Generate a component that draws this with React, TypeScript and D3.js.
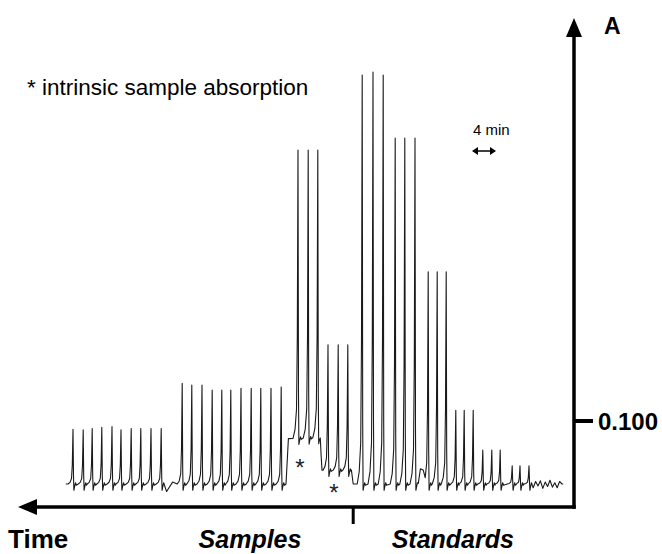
import React from "react";
import * as d3 from "d3";

// injection peaks, minutes before end of run (time runs right -> left)
const sampleTimes = [
  83.5, 81.8, 80.3, 78.7, 77.0, 75.5, 73.8, 72.2, 70.5, 68.8,
  65.3, 63.7, 62.0, 60.3, 58.7, 57.2, 55.5, 53.8, 52.2, 50.5, 48.8,
  46.0, 44.3, 42.7,
  41.0, 39.3, 37.7,
];
const sampleHeights = [
  0.087, 0.086, 0.088, 0.09, 0.091, 0.086, 0.088, 0.088, 0.088, 0.088,
  0.16, 0.157, 0.157, 0.149, 0.149, 0.149, 0.152, 0.152, 0.152, 0.152, 0.154,
  0.53, 0.53, 0.53,
  0.221, 0.221, 0.221,
];
const standardTimes = [
  35.3, 33.5, 31.8,
  29.8, 28.2, 26.5,
  24.3, 22.8, 21.3,
  19.7, 18.3, 16.8,
  15.2, 13.7, 12.3,
  10.3, 9.0, 7.5,
];
const standardHeights = [
  0.649, 0.654, 0.649,
  0.549, 0.549, 0.549,
  0.337, 0.337, 0.337,
  0.117, 0.117, 0.117,
  0.054, 0.054, 0.054,
  0.029, 0.029, 0.029,
];

// baseline (intrinsic sample absorption shifts)
const baseTimes = [1.8, 24.8, 25.1, 25.6, 26.0, 36.8, 37.1, 42.0, 42.3, 47.6, 48.0, 84.7];
const baseLevels = [0, 0, 0.022, 0.024, 0, 0, 0.022, 0.022, 0.074, 0.072, 0, 0];

// small detector noise
const noiseTimes = [67.9, 66.9, 6.8, 6.4, 6.0, 5.6, 5.2, 4.8, 4.4, 4.0, 3.6, 3.2, 2.8, 2.4, 2.0];
const noiseLevels = [-0.012, 0.003, -0.006, 0.004, -0.003, 0.005, -0.007, 0.003, -0.004, 0.006, -0.005, 0.002, -0.006, 0.004, 0];

const asteriskTimes = [45.7, 40.0];
const asteriskLevels = [0.033, -0.006];

const categories = ["Samples", "Standards"];
const categoryCenters = [54.0, 20.2];
const dividerTime = 36.8;
const yTicks = [0.1];
const scaleBar = [17, 13];

// peak shape template
const shapeDt = [0.83, 0.5, 0.25, 0.117, 0, -0.083, -0.15, -0.267, -0.417, -0.55];
const shapeFrac = [0, 0.03, 0.1, 0.35, 1, 0.15, 0, 0, 0, 0];
const shapeOff = [0, 0, 0, 0, 0, 0, -0.01, -0.004, 0.002, -0.002];

const font = "'Liberation Sans', Arial, sans-serif";

const Chromatogram = () => {
  const width = 662;
  const height = 554;
  const axisX = 574;
  const axisY = 507;

  const x = d3.scaleLinear().domain([0, 90]).range([574, 34]);
  const y = d3.scaleLinear().domain([0, 0.1]).range([484, 421]);
  const base = d3.scaleLinear().domain(baseTimes).range(baseLevels).clamp(true);

  const peaks = sampleTimes
    .map((t, i) => ({ t, h: sampleHeights[i] }))
    .concat(standardTimes.map((t, i) => ({ t, h: standardHeights[i] })));

  const inPeak = (t: number) =>
    peaks.some((p) => t >= p.t + shapeDt[shapeDt.length - 1] && t <= p.t + shapeDt[0]);

  const pts: [number, number][] = [];
  peaks.forEach((p) => {
    const b0 = base(p.t);
    shapeDt.forEach((dt, i) => {
      const t = p.t + dt;
      pts.push([t, base(t) + shapeFrac[i] * (p.h - b0) + shapeOff[i]]);
    });
  });
  baseTimes.forEach((t, i) => {
    if (!inPeak(t)) pts.push([t, baseLevels[i]]);
  });
  noiseTimes.forEach((t, i) => {
    if (!inPeak(t)) pts.push([t, base(t) + noiseLevels[i]]);
  });
  pts.sort((a, b) => b[0] - a[0]);

  const line = d3
    .line<[number, number]>()
    .x((d) => x(d[0]))
    .y((d) => y(d[1]));

  const barL = x(scaleBar[0]);
  const barR = x(scaleBar[1]);
  const barY = 151;

  return (
    <svg width={width} height={height} style={{ position: "absolute", left: 0, top: 0 }}>
      <rect width={width} height={height} fill="white" />
      <path d={line(pts) || ""} fill="none" stroke="#1a1a1a" strokeWidth={1.1} strokeLinejoin="round" />

      {asteriskTimes.map((t, i) => (
        <text key={i} x={x(t)} y={y(asteriskLevels[i]) + 13} textAnchor="middle" fontFamily={font} fontSize={24} fill="#222">
          *
        </text>
      ))}

      {/* axes */}
      <g stroke="black" strokeWidth={3.5} fill="none">
        <line x1={axisX} y1={axisY + 1.75} x2={axisX} y2={34} />
        <line x1={axisX + 1.75} y1={axisY} x2={34} y2={axisY} />
        <line x1={x(dividerTime)} y1={axisY} x2={x(dividerTime)} y2={524} strokeWidth={3} />
      </g>
      <path d={`M${axisX},18 L${axisX - 8},37 L${axisX + 8},37 Z`} fill="black" />
      <path d={`M18,${axisY} L37,${axisY - 8} L37,${axisY + 8} Z`} fill="black" />

      {yTicks.map((v) => (
        <g key={v}>
          <line x1={axisX} x2={axisX + 19} y1={y(v)} y2={y(v)} stroke="black" strokeWidth={4} />
          <text x={axisX + 24} y={y(v) + 9} fontFamily={font} fontWeight="bold" fontSize={24}>
            {d3.format(".3f")(v)}
          </text>
        </g>
      ))}
      <text x={604} y={34} fontFamily={font} fontWeight="bold" fontSize={23}>
        A
      </text>

      <text x={8} y={548} fontFamily={font} fontWeight="bold" fontSize={26}>
        Time
      </text>
      {categories.map((c, i) => (
        <text key={c} x={x(categoryCenters[i])} y={548} textAnchor="middle" fontFamily={font} fontWeight="bold" fontStyle="italic" fontSize={25}>
          {c}
        </text>
      ))}

      <text x={27} y={95} fontFamily={font} fontSize={22.5}>
        * intrinsic sample absorption
      </text>

      <text x={barL + 1} y={135} fontFamily={font} fontSize={15}>
        4 min
      </text>
      <g fill="black" stroke="black">
        <line x1={barL + 4} x2={barR - 4} y1={barY} y2={barY} strokeWidth={1.5} />
        <path d={`M${barL},${barY} L${barL + 6},${barY - 4} L${barL + 6},${barY + 4} Z`} stroke="none" />
        <path d={`M${barR},${barY} L${barR - 6},${barY - 4} L${barR - 6},${barY + 4} Z`} stroke="none" />
      </g>
    </svg>
  );
};

export default function App() {
  return <Chromatogram />;
}
